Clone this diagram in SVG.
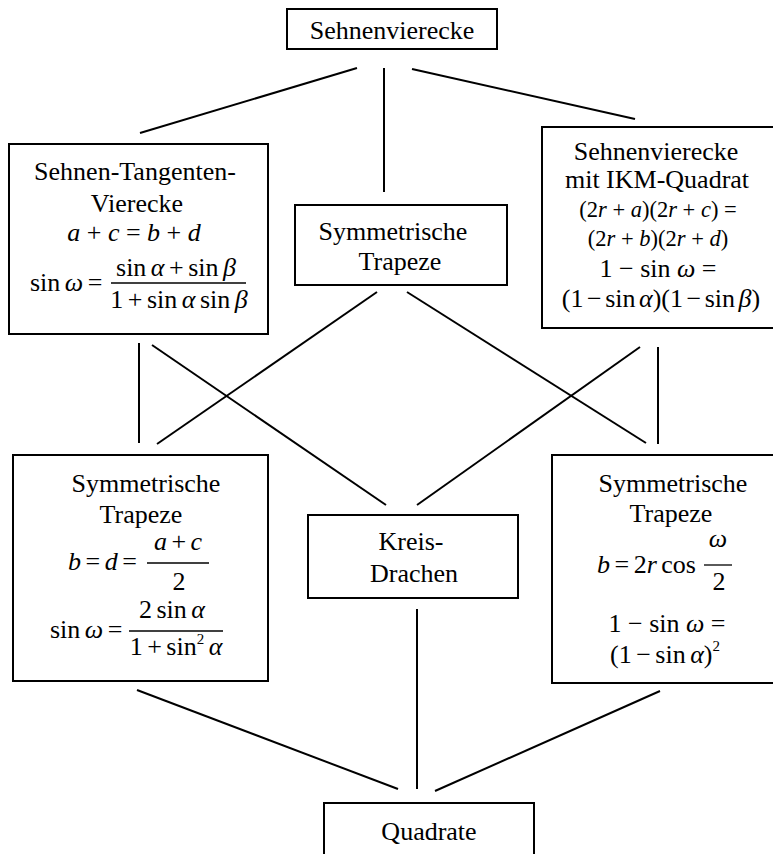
<svg xmlns="http://www.w3.org/2000/svg" width="773" height="854" viewBox="0 0 773 854">
<style>
.box{fill:#fff;stroke:#000;stroke-width:2}
.ln{stroke:#000;stroke-width:2;fill:none}
.bar{stroke:#000;stroke-width:1.3}
text{font-family:"Liberation Serif","Times New Roman",serif;font-size:26px;fill:#000}
.c{text-anchor:middle}
.i{font-style:italic}
.s{font-size:22.5px}
.sup{font-size:15px}
.t{word-spacing:-2px}
</style>
<rect width="773" height="854" fill="#fff"/>
<g id="connectors">
<line class="ln" x1="357" y1="68" x2="140" y2="133"/>
<line class="ln" x1="384" y1="68" x2="384" y2="192"/>
<line class="ln" x1="412" y1="69" x2="635" y2="119"/>
<line class="ln" x1="139" y1="343" x2="139" y2="443"/>
<line class="ln" x1="152" y1="345" x2="386" y2="505"/>
<line class="ln" x1="377" y1="292" x2="157" y2="444"/>
<line class="ln" x1="407" y1="292" x2="646" y2="443"/>
<line class="ln" x1="640" y1="347" x2="417" y2="505"/>
<line class="ln" x1="658" y1="347" x2="658" y2="444"/>
<line class="ln" x1="137" y1="690" x2="398" y2="789"/>
<line class="ln" x1="417" y1="609" x2="417" y2="789"/>
<line class="ln" x1="660" y1="691" x2="435" y2="791"/>
</g>
<g id="sehnenvierecke">
<rect class="box" x="287" y="9" width="210" height="40"/>
<text class="c" x="392" y="39">Sehnenvierecke</text>
</g>
<g id="sehnen-tangenten-vierecke">
<rect class="box" x="9" y="144" width="259" height="190"/>
<text class="c" x="135" y="180">Sehnen-Tangenten-</text>
<text class="c" x="137" y="212">Vierecke</text>
<text class="c" x="134" y="241"><tspan class="i">a</tspan> + <tspan class="i">c</tspan> = <tspan class="i">b</tspan> + <tspan class="i">d</tspan></text>
<text class="t" x="30" y="291">sin <tspan class="i">ω</tspan> =</text>
<text class="c t" x="176" y="276">sin <tspan class="i">α</tspan> + sin <tspan class="i">β</tspan></text>
<line class="bar" x1="111" y1="283" x2="246" y2="283"/>
<text class="c t" x="179" y="308">1 + sin <tspan class="i">α</tspan> sin <tspan class="i">β</tspan></text>
</g>
<g id="symmetrische-trapeze-mitte">
<rect class="box" x="295" y="205" width="212" height="80"/>
<text class="c" x="393" y="240">Symmetrische</text>
<text class="c" x="400" y="270">Trapeze</text>
</g>
<g id="ikm-quadrat">
<rect class="box" x="542" y="127" width="245" height="201"/>
<text class="c" x="656" y="160">Sehnenvierecke</text>
<text class="c" x="657" y="188">mit IKM-Quadrat</text>
<text class="c s" x="658" y="217">(2<tspan class="i">r</tspan> + <tspan class="i">a</tspan>)(2<tspan class="i">r</tspan> + <tspan class="i">c</tspan>) =</text>
<text class="c s" x="658" y="246">(2<tspan class="i">r</tspan> + <tspan class="i">b</tspan>)(2<tspan class="i">r</tspan> + <tspan class="i">d</tspan>)</text>
<text class="c" x="658" y="277">1 − sin <tspan class="i">ω</tspan> =</text>
<text class="c" x="661" y="307" word-spacing="-3">(1 − sin <tspan class="i">α</tspan>)(1 − sin <tspan class="i">β</tspan>)</text>
</g>
<g id="symmetrische-trapeze-links">
<rect class="box" x="13" y="455" width="255" height="226"/>
<text class="c" x="146" y="492">Symmetrische</text>
<text class="c" x="141" y="523">Trapeze</text>
<text class="t" x="68" y="570"><tspan class="i">b</tspan> = <tspan class="i">d</tspan> =</text>
<text class="c t" x="178" y="550"><tspan class="i">a</tspan> + <tspan class="i">c</tspan></text>
<line class="bar" x1="147" y1="563" x2="209" y2="563"/>
<text class="c" x="179" y="590">2</text>
<text class="t" x="50" y="638">sin <tspan class="i">ω</tspan> =</text>
<text class="c t" x="172" y="618">2 sin <tspan class="i">α</tspan></text>
<line class="bar" x1="129" y1="631" x2="223" y2="631"/>
<text class="c t" x="176" y="655">1 + sin<tspan class="sup" dy="-11">2</tspan><tspan dy="11"> </tspan><tspan class="i">α</tspan></text>
</g>
<g id="kreis-drachen">
<rect class="box" x="308" y="515" width="210" height="83"/>
<text class="c" x="411" y="550">Kreis-</text>
<text class="c" x="414" y="582">Drachen</text>
</g>
<g id="symmetrische-trapeze-rechts">
<rect class="box" x="552" y="455" width="240" height="228"/>
<text class="c" x="673" y="492">Symmetrische</text>
<text class="c" x="671" y="522">Trapeze</text>
<text class="t" x="597" y="573"><tspan class="i">b</tspan> = 2<tspan class="i">r</tspan> cos</text>
<text class="c i" x="718" y="547">ω</text>
<line class="bar" x1="704" y1="565" x2="732" y2="565"/>
<text class="c" x="719" y="590">2</text>
<text class="c" x="667" y="632">1 − sin <tspan class="i">ω</tspan> =</text>
<text class="t" x="610" y="663">(1 − sin <tspan class="i">α</tspan>)<tspan class="sup" dy="-12">2</tspan></text>
</g>
<g id="quadrate">
<rect class="box" x="324" y="803" width="210" height="70"/>
<text class="c" x="429" y="840">Quadrate</text>
</g>
</svg>
